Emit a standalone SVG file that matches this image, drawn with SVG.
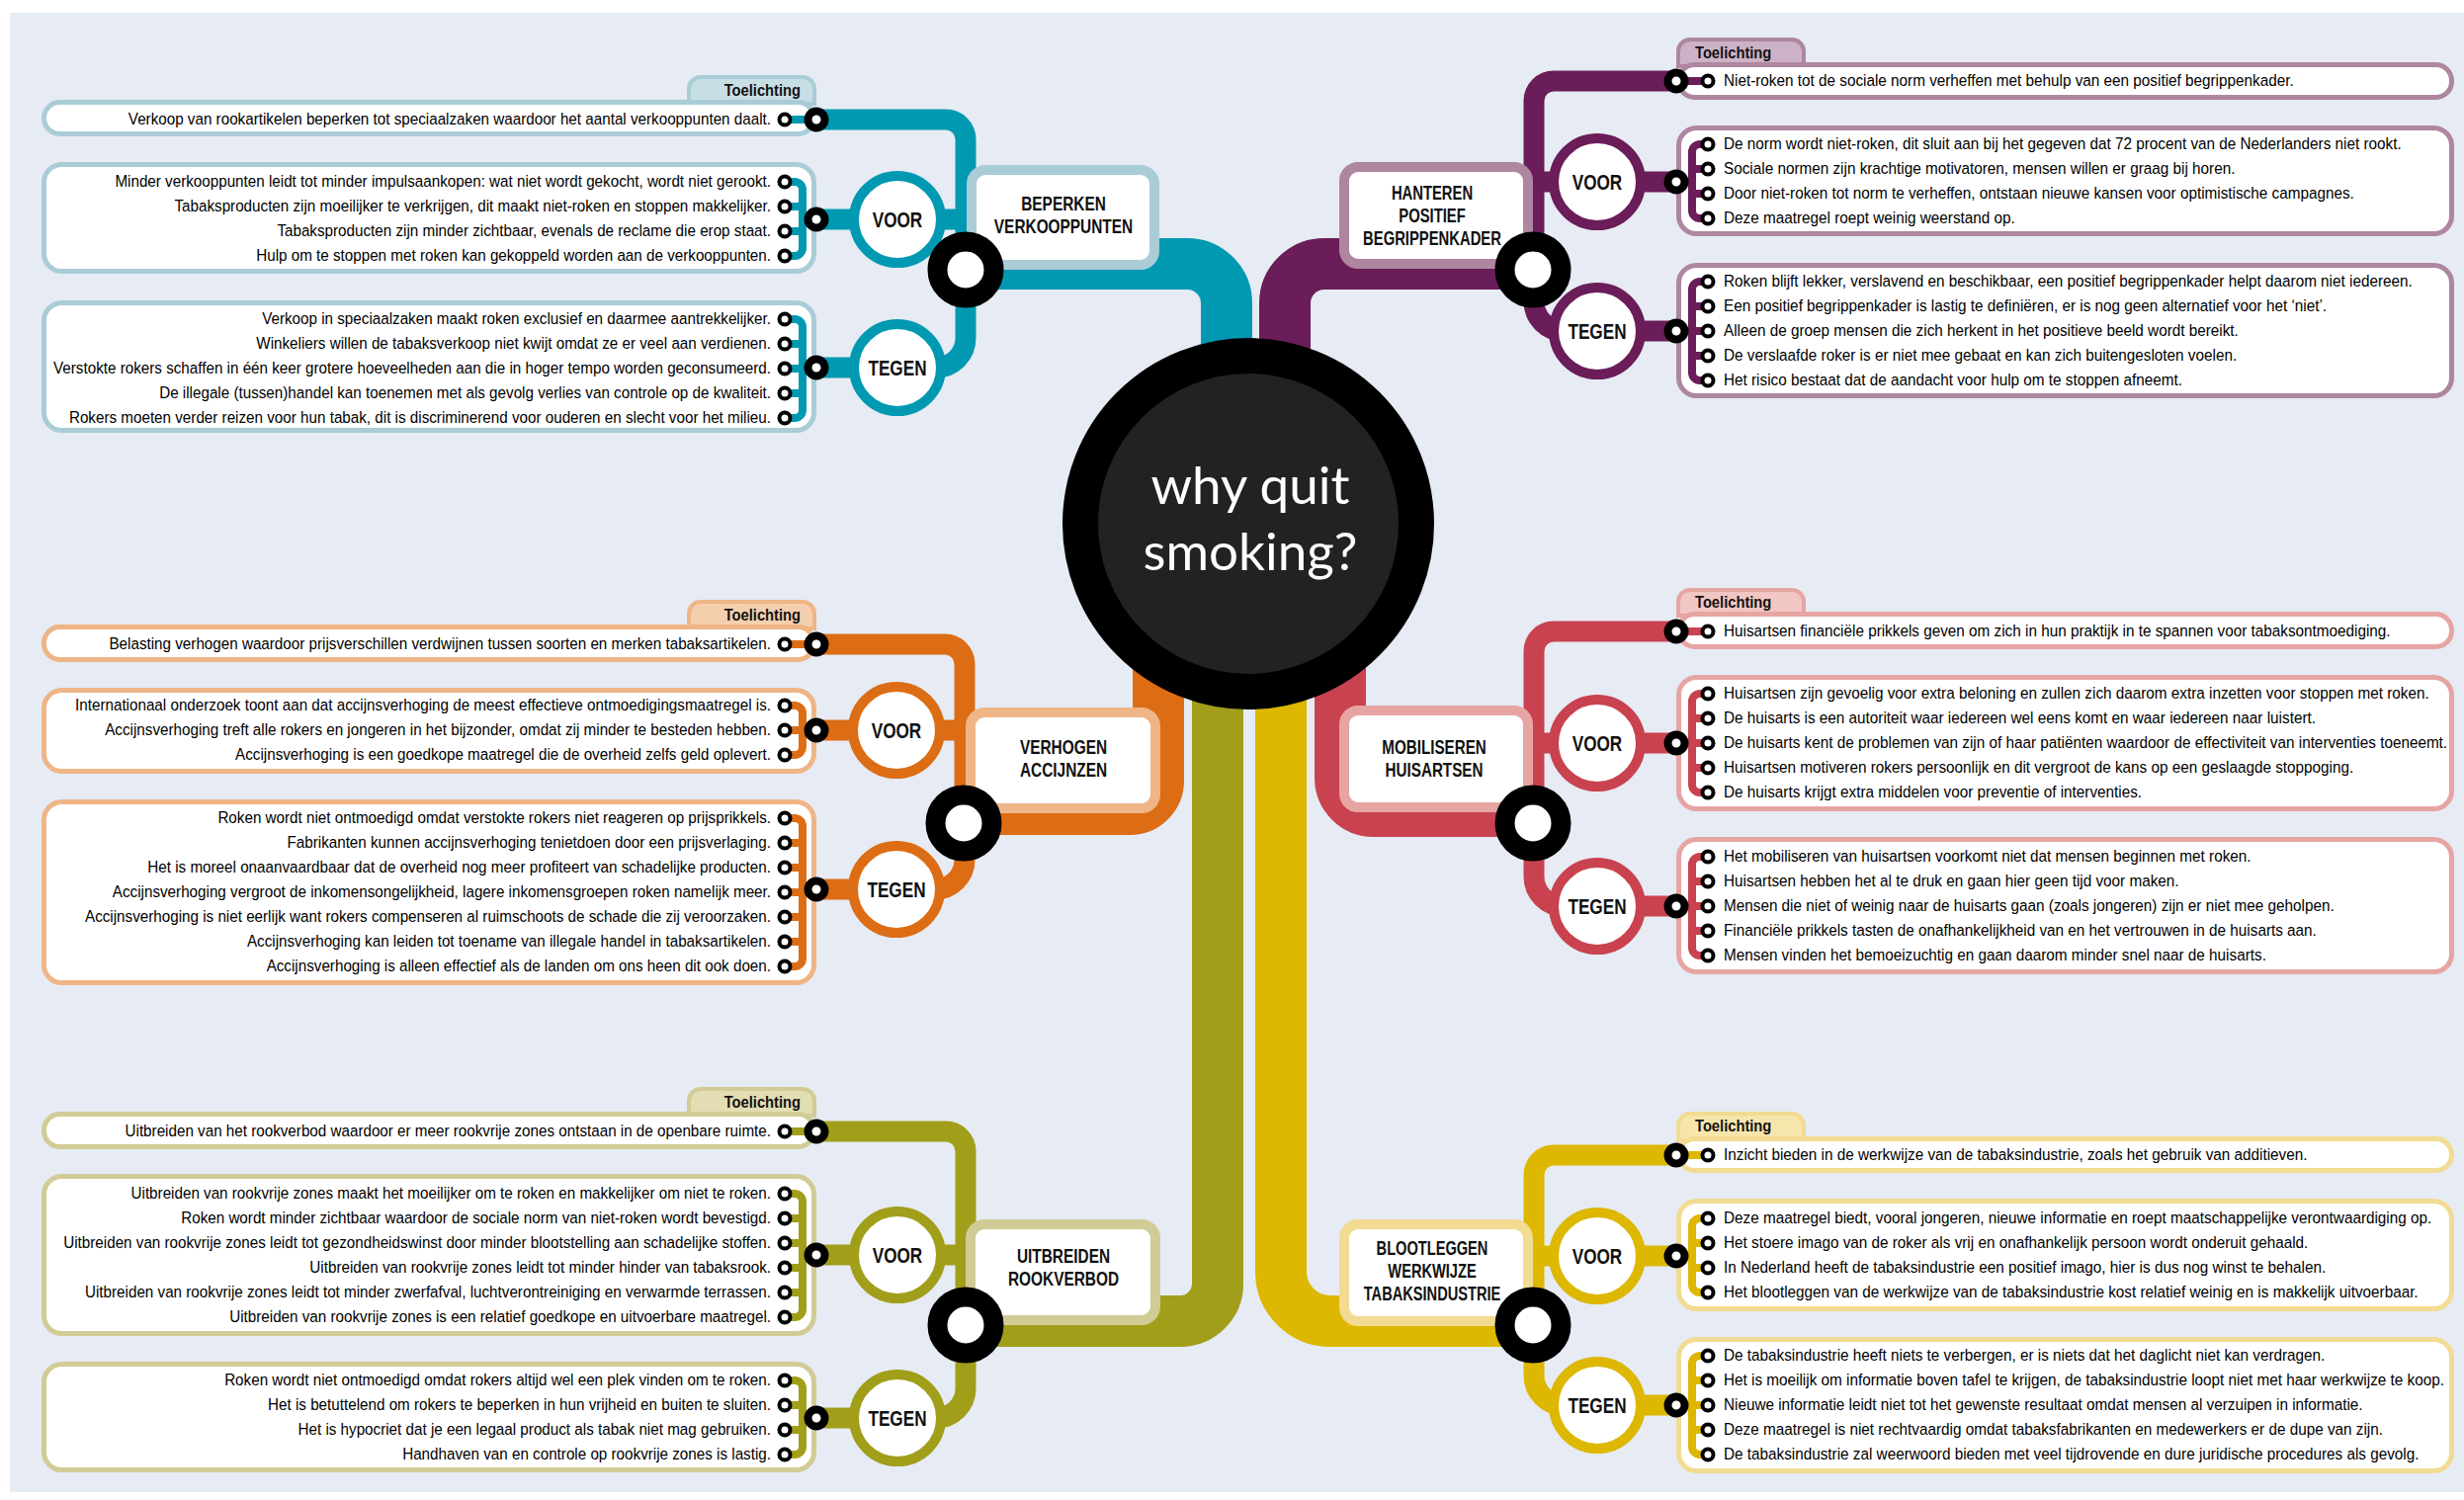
<svg xmlns="http://www.w3.org/2000/svg" width="2493" height="1518" viewBox="0 0 2493 1518">
<style>
.bg{fill:#E6EBF4}
.band{fill:none;stroke-width:52}
.thin{fill:none;stroke-width:21}
.brk{fill:none;stroke-width:8}
.box{fill:#fff;stroke-width:5}
.nbox{fill:#fff;stroke-width:10}
.tab{stroke-width:4}
.vc{fill:#fff;stroke-width:10}
.bul{fill:#fff;stroke:#000;stroke-width:4}
.ld{fill:#fff;stroke:#000;stroke-width:8}
.jd{fill:#fff;stroke:#000;stroke-width:20}
.t{font-family:'Liberation Sans',Arial,sans-serif;font-size:17px;fill:#000}
.tl{font-family:'Liberation Sans',Arial,sans-serif;font-size:16px;font-weight:bold;fill:#111}
.nl{font-family:'Liberation Sans',Arial,sans-serif;font-size:19.5px;font-weight:bold;fill:#111;text-anchor:middle}
.vt{font-family:'Liberation Sans',Arial,sans-serif;font-size:22px;font-weight:bold;fill:#111;text-anchor:middle}
.ct{font-family:Lato,'Open Sans',sans-serif;font-size:53px;fill:#fff;text-anchor:middle}
.L{text-anchor:end}
.teal{stroke:#0099B1}.teal-l{stroke:#A9CCD6}.teal-t{fill:#C8DEE5}
.purp{stroke:#6A1D58}.purp-l{stroke:#AE86A0}.purp-t{fill:#CDB2C7}
.oran{stroke:#DC6D14}.oran-l{stroke:#EFB586}.oran-t{fill:#F4CFAE}
.red{stroke:#C9424F}.red-l{stroke:#E6A5A2}.red-t{fill:#F2C6C2}
.oliv{stroke:#A19E1A}.oliv-l{stroke:#D1CB95}.oliv-t{fill:#E2DDB3}
.yell{stroke:#DDB700}.yell-l{stroke:#F2DB92}.yell-t{fill:#F7E6AC}
</style>
<rect x="0" y="0" width="2493" height="1518" fill="#fff"/>
<rect class="bg" x="10" y="13" width="2483" height="1497"/>

<!-- text panels -->
<g id="panels">
<path class="tab teal-l teal-t" d="M697 105 V90 A12 12 0 0 1 709 78 H812 A12 12 0 0 1 824 90 V105 Z"/>
<rect class="box teal-l" x="44.5" y="103.5" width="779" height="32" rx="16"/>
<rect class="box teal-l" x="44.5" y="166.5" width="779" height="108" rx="18"/>
<rect class="box teal-l" x="44.5" y="306.5" width="779" height="129" rx="18"/>

<path class="tab oran-l oran-t" d="M697 636 V621 A12 12 0 0 1 709 609 H812 A12 12 0 0 1 824 621 V636 Z"/>
<rect class="box oran-l" x="44.5" y="634.5" width="779" height="33" rx="16"/>
<rect class="box oran-l" x="44.5" y="698.5" width="779" height="82" rx="18"/>
<rect class="box oran-l" x="44.5" y="811.5" width="779" height="183" rx="18"/>

<path class="tab oliv-l oliv-t" d="M697 1129 V1114 A12 12 0 0 1 709 1102 H812 A12 12 0 0 1 824 1114 V1129 Z"/>
<rect class="box oliv-l" x="44.5" y="1127.5" width="779" height="33" rx="16"/>
<rect class="box oliv-l" x="44.5" y="1190.5" width="779" height="159" rx="18"/>
<rect class="box oliv-l" x="44.5" y="1380.5" width="779" height="107" rx="18"/>

<path class="tab purp-l purp-t" d="M1698 67 V52 A12 12 0 0 1 1710 40 H1813 A12 12 0 0 1 1825 52 V67 Z"/>
<rect class="box purp-l" x="1698.5" y="65.5" width="782" height="33" rx="16"/>
<rect class="box purp-l" x="1698.5" y="129.5" width="782" height="107" rx="18"/>
<rect class="box purp-l" x="1698.5" y="268.5" width="782" height="132" rx="18"/>

<path class="tab red-l red-t" d="M1698 623 V609 A12 12 0 0 1 1710 597 H1813 A12 12 0 0 1 1825 609 V623 Z"/>
<rect class="box red-l" x="1698.5" y="621.5" width="782" height="33" rx="16"/>
<rect class="box red-l" x="1698.5" y="685.5" width="782" height="133" rx="18"/>
<rect class="box red-l" x="1698.5" y="849.5" width="782" height="134" rx="18"/>

<path class="tab yell-l yell-t" d="M1698 1154 V1139 A12 12 0 0 1 1710 1127 H1813 A12 12 0 0 1 1825 1139 V1154 Z"/>
<rect class="box yell-l" x="1698.5" y="1152.5" width="782" height="32" rx="16"/>
<rect class="box yell-l" x="1698.5" y="1215.5" width="782" height="109" rx="18"/>
<rect class="box yell-l" x="1698.5" y="1355.5" width="782" height="133" rx="18"/>
</g>

<!-- connectors -->
<g id="connectors">
<path class="band teal" d="M977 267 H1201 A40 40 0 0 1 1241 307 V480"/>
<path class="band purp" d="M1551 267 H1340 A40 40 0 0 0 1300 307 V480"/>
<path class="band oran" d="M975 819 H1143 A29 29 0 0 0 1172 790 V600"/>
<path class="band red" d="M1551 821 H1390 A34 34 0 0 1 1356 787 V600"/>
<path class="band oliv" d="M977 1337 H1194 A38 38 0 0 0 1232 1299 V600"/>
<path class="band yell" d="M1551 1337 H1346 A50 50 0 0 1 1296 1287 V600"/>

<path class="thin teal" d="M826 121 H957 A20 20 0 0 1 977 141 V342 A30 30 0 0 1 947 372 H826 M826 222 H977"/>
<path class="thin oran" d="M826 652 H956 A20 20 0 0 1 976 672 V870 A30 30 0 0 1 946 900 H826 M826 739 H976"/>
<path class="thin oliv" d="M826 1145 H957 A20 20 0 0 1 977 1165 V1405 A30 30 0 0 1 947 1435 H826 M826 1270 H977"/>
<path class="thin purp" d="M1696 82 H1572 A20 20 0 0 0 1552 102 V305 A30 30 0 0 0 1582 335 H1696 M1552 184 H1696"/>
<path class="thin red" d="M1696 639 H1572 A20 20 0 0 0 1552 659 V887 A30 30 0 0 0 1582 917 H1696 M1552 752 H1696"/>
<path class="thin yell" d="M1696 1169 H1572 A20 20 0 0 0 1552 1189 V1392 A30 30 0 0 0 1582 1422 H1696 M1552 1271 H1696"/>

<path class="brk teal" d="M794 121 H826 M794 184 H804 A8 8 0 0 1 812 192 V251 A8 8 0 0 1 804 259 H794 M794 209 H812 M794 234 H812 M812 222 H826 M794 323 H804 A8 8 0 0 1 812 331 V415 A8 8 0 0 1 804 423 H794 M794 348 H812 M794 373 H812 M794 398 H812 M812 372 H826"/>
<path class="brk oran" d="M794 652 H826 M794 714 H804 A8 8 0 0 1 812 722 V756 A8 8 0 0 1 804 764 H794 M794 739 H826 M794 828 H804 A8 8 0 0 1 812 836 V970 A8 8 0 0 1 804 978 H794 M794 853 H812 M794 878 H812 M794 903 H812 M794 928 H812 M794 953 H812 M812 900 H826"/>
<path class="brk oliv" d="M794 1145 H826 M794 1208 H804 A8 8 0 0 1 812 1216 V1325 A8 8 0 0 1 804 1333 H794 M794 1233 H812 M794 1258 H812 M794 1283 H812 M794 1308 H812 M812 1270 H826 M794 1397 H804 A8 8 0 0 1 812 1405 V1464 A8 8 0 0 1 804 1472 H794 M794 1422 H812 M794 1447 H812 M812 1435 H826"/>
<path class="brk purp" d="M1728 82 H1696 M1728 146 H1720 A8 8 0 0 0 1712 154 V213 A8 8 0 0 0 1720 221 H1728 M1728 171 H1712 M1728 196 H1712 M1712 184 H1696 M1728 285 H1720 A8 8 0 0 0 1712 293 V377 A8 8 0 0 0 1720 385 H1728 M1728 310 H1712 M1728 335 H1696 M1728 360 H1712"/>
<path class="brk red" d="M1728 639 H1696 M1728 702 H1720 A8 8 0 0 0 1712 710 V794 A8 8 0 0 0 1720 802 H1728 M1728 727 H1712 M1728 752 H1696 M1728 777 H1712 M1728 867 H1720 A8 8 0 0 0 1712 875 V959 A8 8 0 0 0 1720 967 H1728 M1728 892 H1712 M1728 917 H1696 M1728 942 H1712"/>
<path class="brk yell" d="M1728 1169 H1696 M1728 1233 H1720 A8 8 0 0 0 1712 1241 V1300 A8 8 0 0 0 1720 1308 H1728 M1728 1258 H1712 M1728 1283 H1712 M1712 1271 H1696 M1728 1372 H1720 A8 8 0 0 0 1712 1380 V1464 A8 8 0 0 0 1720 1472 H1728 M1728 1397 H1712 M1728 1422 H1696 M1728 1447 H1712"/>
</g>

<!-- center -->
<g id="center">
<circle cx="1263" cy="530" r="170" fill="#222" stroke="#000" stroke-width="36"/>
<text class="ct" x="1265" y="510">why quit</text>
<text class="ct" x="1265" y="577">smoking?</text>
</g>

<!-- node boxes -->
<g id="node-beperken">
<rect class="nbox teal-l" x="983" y="172" width="185" height="96" rx="14"/>
<g transform="translate(1076 0) scale(0.79 1)"><text class="nl" y="213">BEPERKEN</text><text class="nl" y="236">VERKOOPPUNTEN</text></g>
</g>
<g id="node-verhogen">
<rect class="nbox oran-l" x="982" y="721" width="187" height="97" rx="14"/>
<g transform="translate(1076 0) scale(0.79 1)"><text class="nl" y="763">VERHOGEN</text><text class="nl" y="786">ACCIJNZEN</text></g>
</g>
<g id="node-uitbreiden">
<rect class="nbox oliv-l" x="982" y="1239" width="187" height="97" rx="14"/>
<g transform="translate(1076 0) scale(0.79 1)"><text class="nl" y="1278">UITBREIDEN</text><text class="nl" y="1301">ROOKVERBOD</text></g>
</g>
<g id="node-hanteren">
<rect class="nbox purp-l" x="1360" y="169" width="186" height="98" rx="14"/>
<g transform="translate(1449 0) scale(0.76 1)"><text class="nl" y="202">HANTEREN</text><text class="nl" y="225">POSITIEF</text><text class="nl" y="248">BEGRIPPENKADER</text></g>
</g>
<g id="node-mobiliseren">
<rect class="nbox red-l" x="1360" y="719" width="186" height="98" rx="14"/>
<g transform="translate(1451 0) scale(0.78 1)"><text class="nl" y="763">MOBILISEREN</text><text class="nl" y="786">HUISARTSEN</text></g>
</g>
<g id="node-blootleggen">
<rect class="nbox yell-l" x="1360" y="1239" width="186" height="98" rx="14"/>
<g transform="translate(1449 0) scale(0.75 1)"><text class="nl" y="1270">BLOOTLEGGEN</text><text class="nl" y="1293">WERKWIJZE</text><text class="nl" y="1316">TABAKSINDUSTRIE</text></g>
</g>

<!-- voor / tegen nodes -->
<g id="voor-tegen">
<circle class="vc teal" cx="908" cy="222" r="44"/><circle class="vc teal" cx="908" cy="372" r="44"/>
<circle class="vc oran" cx="907" cy="739" r="44"/><circle class="vc oran" cx="907" cy="900" r="44"/>
<circle class="vc oliv" cx="908" cy="1270" r="44"/><circle class="vc oliv" cx="908" cy="1435" r="44"/>
<circle class="vc purp" cx="1616" cy="184" r="44"/><circle class="vc purp" cx="1616" cy="335" r="44"/>
<circle class="vc red" cx="1616" cy="752" r="44"/><circle class="vc red" cx="1616" cy="917" r="44"/>
<circle class="vc yell" cx="1616" cy="1271" r="44"/><circle class="vc yell" cx="1616" cy="1422" r="44"/>
<g transform="translate(908 0) scale(0.78 1)"><text class="vt" y="230">VOOR</text><text class="vt" y="380">TEGEN</text><text class="vt" y="1278">VOOR</text><text class="vt" y="1443">TEGEN</text></g>
<g transform="translate(907 0) scale(0.78 1)"><text class="vt" y="747">VOOR</text><text class="vt" y="908">TEGEN</text></g>
<g transform="translate(1616 0) scale(0.78 1)"><text class="vt" y="192">VOOR</text><text class="vt" y="343">TEGEN</text><text class="vt" y="760">VOOR</text><text class="vt" y="925">TEGEN</text><text class="vt" y="1279">VOOR</text><text class="vt" y="1430">TEGEN</text></g>
</g>

<!-- dots -->
<g id="dots">
<circle class="jd" cx="977" cy="273" r="28.5"/><circle class="jd" cx="975" cy="833" r="28.5"/><circle class="jd" cx="977" cy="1341" r="28.5"/>
<circle class="jd" cx="1551" cy="273" r="28.5"/><circle class="jd" cx="1551" cy="833" r="28.5"/><circle class="jd" cx="1551" cy="1341" r="28.5"/>
<circle class="ld" cx="826" cy="121" r="8.5"/><circle class="ld" cx="826" cy="222" r="8.5"/><circle class="ld" cx="826" cy="372" r="8.5"/>
<circle class="ld" cx="826" cy="652" r="8.5"/><circle class="ld" cx="826" cy="739" r="8.5"/><circle class="ld" cx="826" cy="900" r="8.5"/>
<circle class="ld" cx="826" cy="1145" r="8.5"/><circle class="ld" cx="826" cy="1270" r="8.5"/><circle class="ld" cx="826" cy="1435" r="8.5"/>
<circle class="ld" cx="1696" cy="82" r="8.5"/><circle class="ld" cx="1696" cy="184" r="8.5"/><circle class="ld" cx="1696" cy="335" r="8.5"/>
<circle class="ld" cx="1696" cy="639" r="8.5"/><circle class="ld" cx="1696" cy="752" r="8.5"/><circle class="ld" cx="1696" cy="917" r="8.5"/>
<circle class="ld" cx="1696" cy="1169" r="8.5"/><circle class="ld" cx="1696" cy="1271" r="8.5"/><circle class="ld" cx="1696" cy="1422" r="8.5"/>
<g>
<circle class="bul" cx="794" cy="121" r="5.5"/>
<circle class="bul" cx="794" cy="184" r="5.5"/><circle class="bul" cx="794" cy="209" r="5.5"/><circle class="bul" cx="794" cy="234" r="5.5"/><circle class="bul" cx="794" cy="259" r="5.5"/>
<circle class="bul" cx="794" cy="323" r="5.5"/><circle class="bul" cx="794" cy="348" r="5.5"/><circle class="bul" cx="794" cy="373" r="5.5"/><circle class="bul" cx="794" cy="398" r="5.5"/><circle class="bul" cx="794" cy="423" r="5.5"/>
<circle class="bul" cx="794" cy="652" r="5.5"/>
<circle class="bul" cx="794" cy="714" r="5.5"/><circle class="bul" cx="794" cy="739" r="5.5"/><circle class="bul" cx="794" cy="764" r="5.5"/>
<circle class="bul" cx="794" cy="828" r="5.5"/><circle class="bul" cx="794" cy="853" r="5.5"/><circle class="bul" cx="794" cy="878" r="5.5"/><circle class="bul" cx="794" cy="903" r="5.5"/><circle class="bul" cx="794" cy="928" r="5.5"/><circle class="bul" cx="794" cy="953" r="5.5"/><circle class="bul" cx="794" cy="978" r="5.5"/>
<circle class="bul" cx="794" cy="1145" r="5.5"/>
<circle class="bul" cx="794" cy="1208" r="5.5"/><circle class="bul" cx="794" cy="1233" r="5.5"/><circle class="bul" cx="794" cy="1258" r="5.5"/><circle class="bul" cx="794" cy="1283" r="5.5"/><circle class="bul" cx="794" cy="1308" r="5.5"/><circle class="bul" cx="794" cy="1333" r="5.5"/>
<circle class="bul" cx="794" cy="1397" r="5.5"/><circle class="bul" cx="794" cy="1422" r="5.5"/><circle class="bul" cx="794" cy="1447" r="5.5"/><circle class="bul" cx="794" cy="1472" r="5.5"/>
<circle class="bul" cx="1728" cy="82" r="5.5"/>
<circle class="bul" cx="1728" cy="146" r="5.5"/><circle class="bul" cx="1728" cy="171" r="5.5"/><circle class="bul" cx="1728" cy="196" r="5.5"/><circle class="bul" cx="1728" cy="221" r="5.5"/>
<circle class="bul" cx="1728" cy="285" r="5.5"/><circle class="bul" cx="1728" cy="310" r="5.5"/><circle class="bul" cx="1728" cy="335" r="5.5"/><circle class="bul" cx="1728" cy="360" r="5.5"/><circle class="bul" cx="1728" cy="385" r="5.5"/>
<circle class="bul" cx="1728" cy="639" r="5.5"/>
<circle class="bul" cx="1728" cy="702" r="5.5"/><circle class="bul" cx="1728" cy="727" r="5.5"/><circle class="bul" cx="1728" cy="752" r="5.5"/><circle class="bul" cx="1728" cy="777" r="5.5"/><circle class="bul" cx="1728" cy="802" r="5.5"/>
<circle class="bul" cx="1728" cy="867" r="5.5"/><circle class="bul" cx="1728" cy="892" r="5.5"/><circle class="bul" cx="1728" cy="917" r="5.5"/><circle class="bul" cx="1728" cy="942" r="5.5"/><circle class="bul" cx="1728" cy="967" r="5.5"/>
<circle class="bul" cx="1728" cy="1169" r="5.5"/>
<circle class="bul" cx="1728" cy="1233" r="5.5"/><circle class="bul" cx="1728" cy="1258" r="5.5"/><circle class="bul" cx="1728" cy="1283" r="5.5"/><circle class="bul" cx="1728" cy="1308" r="5.5"/>
<circle class="bul" cx="1728" cy="1372" r="5.5"/><circle class="bul" cx="1728" cy="1397" r="5.5"/><circle class="bul" cx="1728" cy="1422" r="5.5"/><circle class="bul" cx="1728" cy="1447" r="5.5"/><circle class="bul" cx="1728" cy="1472" r="5.5"/>
</g>
</g>

<!-- tab labels -->
<g id="tab-labels">
<g transform="translate(810 0) scale(0.92 1)"><text class="tl L" y="97">Toelichting</text><text class="tl L" y="628">Toelichting</text><text class="tl L" y="1121">Toelichting</text></g>
<g transform="translate(1715 0) scale(0.92 1)"><text class="tl" y="59">Toelichting</text><text class="tl" y="615">Toelichting</text><text class="tl" y="1145">Toelichting</text></g>
</g>

<!-- left texts -->
<g id="text-left" transform="translate(780 0) scale(0.895 1)">
<text class="t L" y="126">Verkoop van rookartikelen beperken tot speciaalzaken waardoor het aantal verkooppunten daalt.</text>
<text class="t L" y="189">Minder verkooppunten leidt tot minder impulsaankopen: wat niet wordt gekocht, wordt niet gerookt.</text>
<text class="t L" y="214">Tabaksproducten zijn moeilijker te verkrijgen, dit maakt niet-roken en stoppen makkelijker.</text>
<text class="t L" y="239">Tabaksproducten zijn minder zichtbaar, evenals de reclame die erop staat.</text>
<text class="t L" y="264">Hulp om te stoppen met roken kan gekoppeld worden aan de verkooppunten.</text>
<text class="t L" y="328">Verkoop in speciaalzaken maakt roken exclusief en daarmee aantrekkelijker.</text>
<text class="t L" y="353">Winkeliers willen de tabaksverkoop niet kwijt omdat ze er veel aan verdienen.</text>
<text class="t L" y="378">Verstokte rokers schaffen in één keer grotere hoeveelheden aan die in hoger tempo worden geconsumeerd.</text>
<text class="t L" y="403">De illegale (tussen)handel kan toenemen met als gevolg verlies van controle op de kwaliteit.</text>
<text class="t L" y="428">Rokers moeten verder reizen voor hun tabak, dit is discriminerend voor ouderen en slecht voor het milieu.</text>
<text class="t L" y="657">Belasting verhogen waardoor prijsverschillen verdwijnen tussen soorten en merken tabaksartikelen.</text>
<text class="t L" y="719">Internationaal onderzoek toont aan dat accijnsverhoging de meest effectieve ontmoedigingsmaatregel is.</text>
<text class="t L" y="744">Accijnsverhoging treft alle rokers en jongeren in het bijzonder, omdat zij minder te besteden hebben.</text>
<text class="t L" y="769">Accijnsverhoging is een goedkope maatregel die de overheid zelfs geld oplevert.</text>
<text class="t L" y="833">Roken wordt niet ontmoedigd omdat verstokte rokers niet reageren op prijsprikkels.</text>
<text class="t L" y="858">Fabrikanten kunnen accijnsverhoging tenietdoen door een prijsverlaging.</text>
<text class="t L" y="883">Het is moreel onaanvaardbaar dat de overheid nog meer profiteert van schadelijke producten.</text>
<text class="t L" y="908">Accijnsverhoging vergroot de inkomensongelijkheid, lagere inkomensgroepen roken namelijk meer.</text>
<text class="t L" y="933">Accijnsverhoging is niet eerlijk want rokers compenseren al ruimschoots de schade die zij veroorzaken.</text>
<text class="t L" y="958">Accijnsverhoging kan leiden tot toename van illegale handel in tabaksartikelen.</text>
<text class="t L" y="983">Accijnsverhoging is alleen effectief als de landen om ons heen dit ook doen.</text>
<text class="t L" y="1150">Uitbreiden van het rookverbod waardoor er meer rookvrije zones ontstaan in de openbare ruimte.</text>
<text class="t L" y="1213">Uitbreiden van rookvrije zones maakt het moeilijker om te roken en makkelijker om niet te roken.</text>
<text class="t L" y="1238">Roken wordt minder zichtbaar waardoor de sociale norm van niet-roken wordt bevestigd.</text>
<text class="t L" y="1263">Uitbreiden van rookvrije zones leidt tot gezondheidswinst door minder blootstelling aan schadelijke stoffen.</text>
<text class="t L" y="1288">Uitbreiden van rookvrije zones leidt tot minder hinder van tabaksrook.</text>
<text class="t L" y="1313">Uitbreiden van rookvrije zones leidt tot minder zwerfafval, luchtverontreiniging en verwarmde terrassen.</text>
<text class="t L" y="1338">Uitbreiden van rookvrije zones is een relatief goedkope en uitvoerbare maatregel.</text>
<text class="t L" y="1402">Roken wordt niet ontmoedigd omdat rokers altijd wel een plek vinden om te roken.</text>
<text class="t L" y="1427">Het is betuttelend om rokers te beperken in hun vrijheid en buiten te sluiten.</text>
<text class="t L" y="1452">Het is hypocriet dat je een legaal product als tabak niet mag gebruiken.</text>
<text class="t L" y="1477">Handhaven van en controle op rookvrije zones is lastig.</text>
</g>

<!-- right texts -->
<g id="text-right" transform="translate(1744 0) scale(0.9 1)">
<text class="t" y="87">Niet-roken tot de sociale norm verheffen met behulp van een positief begrippenkader.</text>
<text class="t" y="151">De norm wordt niet-roken, dit sluit aan bij het gegeven dat 72 procent van de Nederlanders niet rookt.</text>
<text class="t" y="176">Sociale normen zijn krachtige motivatoren, mensen willen er graag bij horen.</text>
<text class="t" y="201">Door niet-roken tot norm te verheffen, ontstaan nieuwe kansen voor optimistische campagnes.</text>
<text class="t" y="226">Deze maatregel roept weinig weerstand op.</text>
<text class="t" y="290">Roken blijft lekker, verslavend en beschikbaar, een positief begrippenkader helpt daarom niet iedereen.</text>
<text class="t" y="315">Een positief begrippenkader is lastig te definiëren, er is nog geen alternatief voor het ‘niet’.</text>
<text class="t" y="340">Alleen de groep mensen die zich herkent in het positieve beeld wordt bereikt.</text>
<text class="t" y="365">De verslaafde roker is er niet mee gebaat en kan zich buitengesloten voelen.</text>
<text class="t" y="390">Het risico bestaat dat de aandacht voor hulp om te stoppen afneemt.</text>
<text class="t" y="644">Huisartsen financiële prikkels geven om zich in hun praktijk in te spannen voor tabaksontmoediging.</text>
<text class="t" y="707">Huisartsen zijn gevoelig voor extra beloning en zullen zich daarom extra inzetten voor stoppen met roken.</text>
<text class="t" y="732">De huisarts is een autoriteit waar iedereen wel eens komt en waar iedereen naar luistert.</text>
<text class="t" y="757">De huisarts kent de problemen van zijn of haar patiënten waardoor de effectiviteit van interventies toeneemt.</text>
<text class="t" y="782">Huisartsen motiveren rokers persoonlijk en dit vergroot de kans op een geslaagde stoppoging.</text>
<text class="t" y="807">De huisarts krijgt extra middelen voor preventie of interventies.</text>
<text class="t" y="872">Het mobiliseren van huisartsen voorkomt niet dat mensen beginnen met roken.</text>
<text class="t" y="897">Huisartsen hebben het al te druk en gaan hier geen tijd voor maken.</text>
<text class="t" y="922">Mensen die niet of weinig naar de huisarts gaan (zoals jongeren) zijn er niet mee geholpen.</text>
<text class="t" y="947">Financiële prikkels tasten de onafhankelijkheid van en het vertrouwen in de huisarts aan.</text>
<text class="t" y="972">Mensen vinden het bemoeizuchtig en gaan daarom minder snel naar de huisarts.</text>
<text class="t" y="1174">Inzicht bieden in de werkwijze van de tabaksindustrie, zoals het gebruik van additieven.</text>
<text class="t" y="1238">Deze maatregel biedt, vooral jongeren, nieuwe informatie en roept maatschappelijke verontwaardiging op.</text>
<text class="t" y="1263">Het stoere imago van de roker als vrij en onafhankelijk persoon wordt onderuit gehaald.</text>
<text class="t" y="1288">In Nederland heeft de tabaksindustrie een positief imago, hier is dus nog winst te behalen.</text>
<text class="t" y="1313">Het blootleggen van de werkwijze van de tabaksindustrie kost relatief weinig en is makkelijk uitvoerbaar.</text>
<text class="t" y="1377">De tabaksindustrie heeft niets te verbergen, er is niets dat het daglicht niet kan verdragen.</text>
<text class="t" y="1402">Het is moeilijk om informatie boven tafel te krijgen, de tabaksindustrie loopt niet met haar werkwijze te koop.</text>
<text class="t" y="1427">Nieuwe informatie leidt niet tot het gewenste resultaat omdat mensen al verzuipen in informatie.</text>
<text class="t" y="1452">Deze maatregel is niet rechtvaardig omdat tabaksfabrikanten en medewerkers er de dupe van zijn.</text>
<text class="t" y="1477">De tabaksindustrie zal weerwoord bieden met veel tijdrovende en dure juridische procedures als gevolg.</text>
</g>
</svg>
